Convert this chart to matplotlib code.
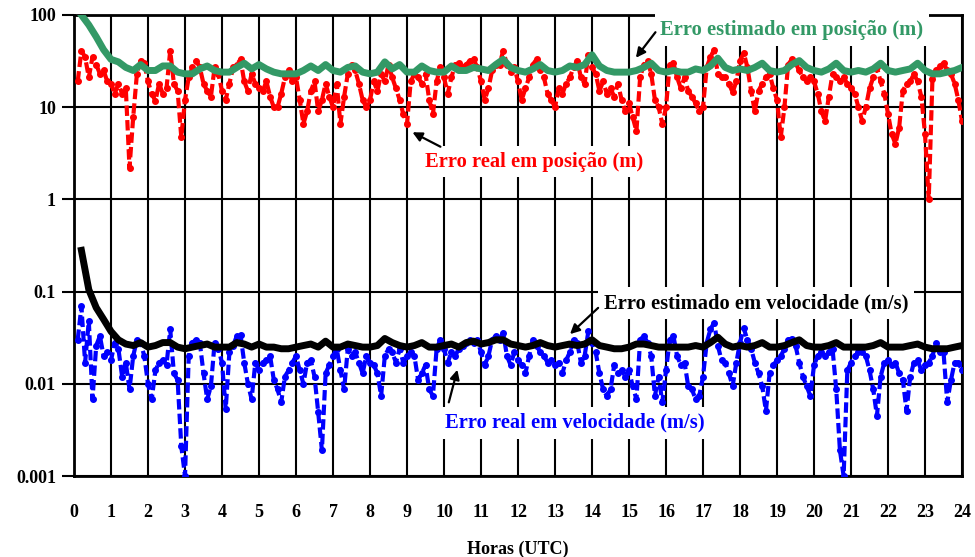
import numpy as np
import matplotlib
matplotlib.use("Agg")
import matplotlib.pyplot as plt

# sample times (hours UTC)
t_real = np.round(np.arange(1, 241) * 0.1, 1)
t_est = np.round(np.arange(1, 121) * 0.2, 1)

# real position error (m), 0.1 h steps
pos_real = [
    19, 41, 35, 21, 35, 29, 23, 25, 19, 18,
    14, 18, 14, 16, 2.2, 7.8, 23, 32, 30, 19,
    14, 11.7, 18, 14, 16, 41, 18, 15, 4.7, 12,
    21, 27, 32, 27, 18, 15, 13, 27, 23, 15,
    12, 18, 27, 29, 33, 19, 15, 23, 18, 16,
    15, 19, 13, 10, 10, 14, 21, 25, 19, 21,
    12, 6.6, 9, 15, 19, 9, 12, 18, 13, 10,
    18, 6.6, 13, 23, 29, 25, 18, 12, 10, 12,
    19, 15, 23, 19, 29, 21, 16, 12, 8.4, 6.6,
    19, 23, 21, 18, 23, 12, 8.4, 19, 27, 21,
    14, 21, 29, 30, 27, 29, 32, 33, 27, 19,
    12, 16, 25, 29, 29, 41, 29, 24, 27, 19,
    12, 16, 21, 29, 33, 25, 21, 14, 12, 10,
    16, 14, 18, 21, 27, 32, 21, 18, 37, 27,
    23, 15, 19, 14, 16, 13, 18, 12, 9, 11,
    7.8, 5.5, 21, 29, 32, 23, 12, 10, 6.6, 10,
    29, 30, 21, 16, 21, 15, 13, 11, 9, 10,
    27, 35, 42, 23, 21, 21, 18, 14.5, 19, 32,
    39, 27, 15, 9, 15, 18, 21, 23, 16, 12,
    4.7, 10, 29, 33, 30, 25, 21, 19, 21, 19,
    14, 9, 7.1, 13, 23, 21, 19, 21, 18, 16,
    14, 10, 7.1, 10, 16, 21, 27, 19, 14, 8.4,
    5.1, 4.0, 6.0, 15, 18, 19, 23, 19, 13, 5.1,
    1.0, 20, 25, 28, 30, 25, 23, 18, 12, 7,
]

# real velocity error (m/s), 0.1 h steps
vel_real = [
    0.030, 0.069, 0.017, 0.048, 0.0068, 0.026, 0.033, 0.020, 0.022, 0.018,
    0.028, 0.024, 0.012, 0.017, 0.0087, 0.020, 0.030, 0.028, 0.020, 0.010,
    0.0068, 0.014, 0.017, 0.018, 0.016, 0.039, 0.013, 0.011, 0.0021, 0.001,
    0.020, 0.028, 0.030, 0.028, 0.013, 0.0068, 0.0094, 0.028, 0.024, 0.017,
    0.0053, 0.022, 0.026, 0.033, 0.034, 0.017, 0.010, 0.0068, 0.017, 0.014,
    0.017, 0.018, 0.020, 0.011, 0.0087, 0.0063, 0.012, 0.014, 0.017, 0.020,
    0.014, 0.010, 0.017, 0.018, 0.012, 0.0049, 0.0019, 0.013, 0.016, 0.020,
    0.024, 0.014, 0.0087, 0.024, 0.020, 0.022, 0.017, 0.013, 0.020, 0.017,
    0.016, 0.013, 0.0074, 0.020, 0.024, 0.022, 0.017, 0.024, 0.017, 0.020,
    0.022, 0.020, 0.011, 0.013, 0.016, 0.0087, 0.0074, 0.024, 0.030, 0.024,
    0.017, 0.022, 0.020, 0.024, 0.026, 0.028, 0.030, 0.028, 0.030, 0.022,
    0.016, 0.020, 0.030, 0.033, 0.030, 0.036, 0.020, 0.016, 0.022, 0.018,
    0.016, 0.013, 0.020, 0.030, 0.026, 0.022, 0.020, 0.017, 0.018, 0.016,
    0.017, 0.013, 0.018, 0.022, 0.030, 0.028, 0.017, 0.020, 0.037, 0.028,
    0.022, 0.013, 0.0087, 0.0074, 0.0087, 0.016, 0.013, 0.014, 0.012, 0.014,
    0.0094, 0.0068, 0.030, 0.033, 0.028, 0.020, 0.0074, 0.012, 0.0063, 0.014,
    0.030, 0.033, 0.020, 0.016, 0.017, 0.0094, 0.0087, 0.0068, 0.0074, 0.012,
    0.028, 0.039, 0.046, 0.026, 0.018, 0.017, 0.013, 0.0094, 0.017, 0.028,
    0.040, 0.030, 0.024, 0.017, 0.013, 0.0094, 0.0051, 0.013, 0.016, 0.018,
    0.020, 0.024, 0.030, 0.031, 0.026, 0.017, 0.012, 0.0094, 0.0074, 0.016,
    0.020, 0.022, 0.020, 0.022, 0.024, 0.0087, 0.0019, 0.001, 0.014, 0.017,
    0.020, 0.022, 0.022, 0.020, 0.014, 0.0087, 0.0045, 0.012, 0.017, 0.018,
    0.016, 0.017, 0.013, 0.011, 0.0051, 0.012, 0.017, 0.018, 0.014, 0.016,
    0.017, 0.020, 0.028, 0.022, 0.022, 0.0063, 0.011, 0.017, 0.017, 0.014,
]

# estimated position error (m), 0.2 h steps
pos_est = [
    100, 78, 58, 42, 33, 31, 27, 25, 29, 25,
    25, 28, 28, 24, 23, 23, 26, 28, 25, 24,
    24, 27, 30, 26, 29, 26, 24, 23, 23, 23,
    25, 28, 25, 29, 25, 24, 27, 28, 24, 23,
    24, 31, 26, 29, 24, 24, 28, 25, 24, 24,
    28, 25, 25, 27, 26, 25, 29, 33, 27, 25,
    24, 26, 29, 25, 24, 25, 28, 27, 29, 37,
    28, 25, 24, 24, 24, 25, 27, 30, 25, 24,
    25, 24, 24, 26, 25, 28, 34, 27, 25, 26,
    25, 27, 30, 25, 24, 25, 29, 32, 27, 25,
    24, 26, 30, 25, 24, 25, 24, 26, 30, 25,
    24, 25, 26, 30, 25, 23, 23, 24, 25, 27,
]

# estimated velocity error (m/s), 0.2 h steps
vel_est = [
    0.28, 0.105, 0.067, 0.050, 0.037, 0.030, 0.027, 0.026, 0.028, 0.025,
    0.026, 0.028, 0.028, 0.025, 0.024, 0.025, 0.026, 0.027, 0.025, 0.025,
    0.025, 0.028, 0.027, 0.025, 0.027, 0.025, 0.025, 0.024, 0.024, 0.025,
    0.026, 0.027, 0.025, 0.029, 0.025, 0.025, 0.027, 0.026, 0.025, 0.025,
    0.026, 0.031, 0.028, 0.026, 0.025, 0.026, 0.028, 0.025, 0.025, 0.026,
    0.027, 0.025, 0.028, 0.029, 0.027, 0.028, 0.030, 0.030, 0.027, 0.026,
    0.025, 0.026, 0.028, 0.026, 0.025, 0.026, 0.027, 0.026, 0.027, 0.030,
    0.026, 0.025, 0.024, 0.024, 0.025, 0.027, 0.027, 0.026, 0.025, 0.025,
    0.025, 0.025, 0.025, 0.026, 0.025, 0.028, 0.032, 0.027, 0.025, 0.026,
    0.025, 0.026, 0.028, 0.025, 0.025, 0.026, 0.028, 0.030, 0.026, 0.025,
    0.025, 0.026, 0.028, 0.025, 0.025, 0.025, 0.025, 0.026, 0.028, 0.025,
    0.025, 0.025, 0.026, 0.027, 0.025, 0.024, 0.024, 0.024, 0.025, 0.026,
]

x_ticks = list(range(0, 25))
y_ticks = [0.001, 0.01, 0.1, 1, 10, 100]
y_labels = ['0.001', '0.01', '0.1', '1', '10', '100']

GREEN = '#339966'
FONT = 'Liberation Serif'

plt.rcParams['font.family'] = [FONT, 'DejaVu Serif']
plt.rcParams['font.weight'] = 'bold'

fig = plt.figure(figsize=(9.75, 5.57), dpi=100)
ax = fig.add_axes([0.0759, 0.1454, 0.9108, 0.8277])

ax.plot(t_real, pos_real, color='red', lw=3, ls=(0, (2.5, 1)),
        marker='o', ms=4, zorder=3)
ax.plot(t_real, vel_real, color='blue', lw=3, ls=(0, (2.5, 1)),
        marker='o', ms=4, zorder=3)
ax.plot(t_est, pos_est, color=GREEN, lw=5, solid_joinstyle='round', zorder=4)
ax.plot(t_est, vel_est, color='black', lw=5, solid_joinstyle='round', zorder=4)

ax.set_yscale('log')
ax.set_xlim(0, 24)
ax.set_ylim(0.001, 100)
ax.set_xticks(x_ticks)
ax.set_xticklabels([str(h) for h in x_ticks], fontsize=13, fontweight='bold')
ax.set_yticks(y_ticks)
ax.set_yticklabels(y_labels, fontsize=13, fontweight='bold')
ax.yaxis.set_minor_locator(matplotlib.ticker.NullLocator())
ax.tick_params(axis='x', length=0, pad=20)
ax.tick_params(axis='y', length=9, width=1.5, pad=4)
ax.grid(True, color='black', lw=1.5, zorder=1)
ax.set_axisbelow(True)
for s in ax.spines.values():
    s.set_linewidth(2)

ax.set_xlabel('Horas (UTC)', fontsize=13, fontweight='bold', labelpad=14)

box = dict(facecolor='white', edgecolor='none', pad=4)
ax.text(19.4, 68.7, 'Erro estimado em posição (m)', color=GREEN, fontsize=14.8,
        fontweight='bold', ha='center', va='center', bbox=box, zorder=6)
ax.text(12.43, 2.55, 'Erro real em posição (m)', color='red', fontsize=14.8,
        fontweight='bold', ha='center', va='center', bbox=box, zorder=6)
ax.text(18.43, 0.0752, 'Erro estimado em velocidade (m/s)', color='black', fontsize=14.8,
        fontweight='bold', ha='center', va='center', bbox=box, zorder=6)
ax.text(13.54, 0.00376, 'Erro real em velocidade (m/s)', color='blue', fontsize=14.8,
        fontweight='bold', ha='center', va='center', bbox=box, zorder=6)

arrow = dict(arrowstyle='-|>', color='black', lw=1.6, mutation_scale=14)
ax.annotate('', xy=(15.14, 32.5), xytext=(15.76, 68.7), arrowprops=arrow, zorder=7)
ax.annotate('', xy=(9.08, 5.52), xytext=(9.97, 3.61), arrowprops=arrow, zorder=7)
ax.annotate('', xy=(13.35, 0.033), xytext=(14.22, 0.0698), arrowprops=arrow, zorder=7)
ax.annotate('', xy=(10.38, 0.0152), xytext=(10.11, 0.00589), arrowprops=arrow, zorder=7)

fig.savefig('out.png', dpi=100)
